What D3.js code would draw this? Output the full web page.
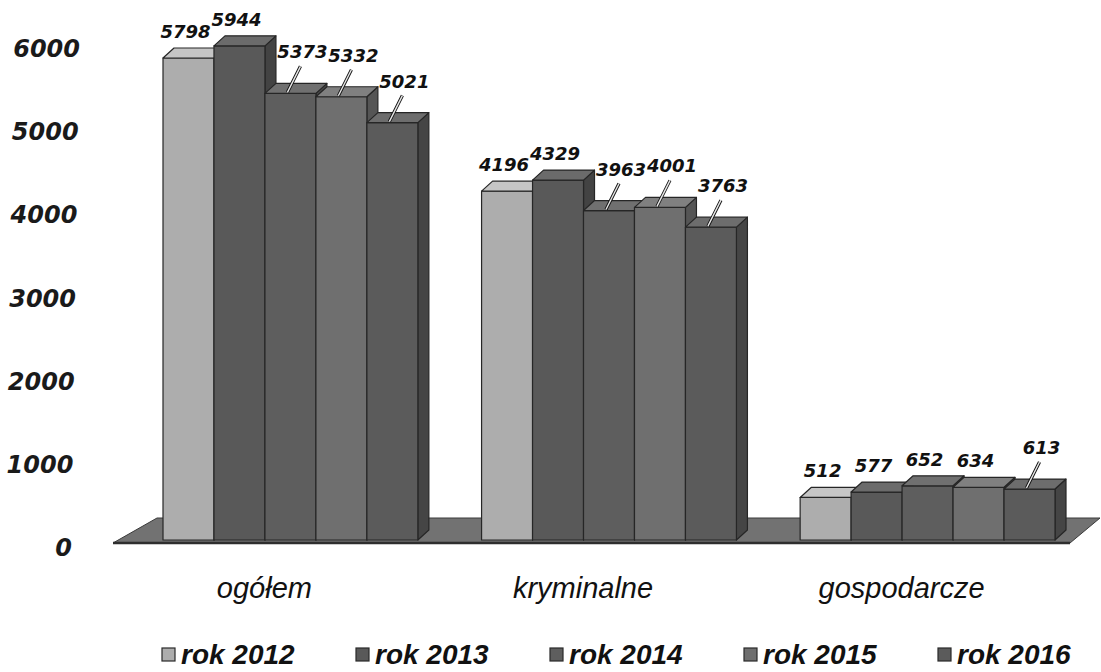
<!DOCTYPE html>
<html>
<head>
<meta charset="utf-8">
<script src="https://cdn.jsdelivr.net/npm/d3@7"></script>
<style>
    html, body { margin: 0; padding: 0; background: #fff; }
    svg { display: block; }
</style>
</head>
<body>
<div id="chart"></div>
<script>
(function () {
    // data
    var categories = ["ogółem", "kryminalne", "gospodarcze"];
    var years = ["rok 2012", "rok 2013", "rok 2014", "rok 2015", "rok 2016"];
    var rok2012 = [5798, 4196, 512];
    var rok2013 = [5944, 4329, 577];
    var rok2014 = [5373, 3963, 652];
    var rok2015 = [5332, 4001, 634];
    var rok2016 = [5021, 3763, 613];
    var yTicks = [0, 1000, 2000, 3000, 4000, 5000, 6000];

    var series = [rok2012, rok2013, rok2014, rok2015, rok2016];

    // grey shades of the scan: front / top / side
    var shades = [
        {front: "#adadad", top: "#c6c6c6", side: "#8c8c8c"},
        {front: "#595959", top: "#6b6b6b", side: "#434343"},
        {front: "#5e5e5e", top: "#707070", side: "#474747"},
        {front: "#6f6f6f", top: "#808080", side: "#555555"},
        {front: "#5b5b5b", top: "#6d6d6d", side: "#454545"}
    ];

    var W = 1101, H = 672;
    var DX = 11, DY = 10; //--3d depth offset
    var base = 540;

    var svg = d3.select("#chart").append("svg")
        .attr("width", W)
        .attr("height", H);

    svg.append("rect").attr("width", W).attr("height", H).attr("fill", "#fff");

    var x0 = d3.scaleBand().domain(categories).range([163, 1055]).paddingInner(0.2).paddingOuter(0);
    var x1 = d3.scaleBand().domain(years).range([0, x0.bandwidth()]).padding(0);
    var y = d3.scaleLinear().domain([0, 6000]).range([base, 41.2]);

    // floor
    svg.append("polygon")
        .attr("points", [[113, 543], [1070, 543], [1100, 518], [157, 518]].join(" "))
        .attr("fill", "#727272")
        .attr("stroke", "#3a3a3a")
        .attr("stroke-width", 1);
    svg.append("line")
        .attr("x1", 113).attr("y1", 543).attr("x2", 1070).attr("y2", 543)
        .attr("stroke", "#2e2e2e").attr("stroke-width", 2.5);

    // y axis labels
    svg.append("g").selectAll("text")
        .data(yTicks)
        .enter().append("text")
        .attr("x", function (d) { return 72 + d / 750; })
        .attr("y", function (d) { return y(d) + 16; })
        .attr("text-anchor", "end")
        .attr("font-family", "'DejaVu Sans', Verdana, sans-serif")
        .attr("font-weight", "bold")
        .attr("font-style", "italic")
        .attr("font-size", 24)
        .attr("fill", "#1a1a1a")
        .text(function (d) { return d; });

    var bars = svg.append("g");
    var labels = svg.append("g");

    categories.forEach(function (cat, ci) {
        var maxPrev = 0;
        years.forEach(function (yr, si) {
            var v = series[si][ci];
            var bx = x0(cat) + x1(yr);
            var bw = x1.bandwidth();
            var yt = y(v);
            var sh = shades[si];
            var g = bars.append("g")
                .attr("stroke", "#262626")
                .attr("stroke-width", 1.2)
                .attr("stroke-linejoin", "round");

            g.append("polygon")
                .attr("points", [[bx + bw, yt], [bx + bw + DX, yt - DY], [bx + bw + DX, base - DY], [bx + bw, base]].join(" "))
                .attr("fill", sh.side);
            g.append("rect")
                .attr("x", bx).attr("y", yt)
                .attr("width", bw).attr("height", base - yt)
                .attr("fill", sh.front);
            g.append("polygon")
                .attr("points", [[bx, yt], [bx + DX, yt - DY], [bx + bw + DX, yt - DY], [bx + bw, yt]].join(" "))
                .attr("fill", sh.top);

            var cx = bx + bw / 2;
            var backTop = yt - DY;
            var lx, ly;
            if (maxPrev - v > 30) {
                lx = cx + 12;
                ly = backTop - 25;
                var lineP = [[cx - 3, yt - 1], [lx - 2, ly + 8]];
                labels.append("line")
                    .attr("x1", lineP[0][0]).attr("y1", lineP[0][1])
                    .attr("x2", lineP[1][0]).attr("y2", lineP[1][1])
                    .attr("stroke", "#111").attr("stroke-width", 3.2);
                labels.append("line")
                    .attr("x1", lineP[0][0]).attr("y1", lineP[0][1])
                    .attr("x2", lineP[1][0]).attr("y2", lineP[1][1])
                    .attr("stroke", "#e8e8e8").attr("stroke-width", 1.4);
            } else {
                lx = cx - 3;
                ly = backTop - 10;
            }
            labels.append("text")
                .attr("x", lx)
                .attr("y", ly)
                .attr("text-anchor", "middle")
                .attr("font-family", "'DejaVu Sans', Verdana, sans-serif")
                .attr("font-weight", "bold")
                .attr("font-style", "italic")
                .attr("font-size", 18)
                .attr("fill", "#111")
                .text(v);
            maxPrev = Math.max(maxPrev, v);
        });
    });

    // category labels (shifted left for the perspective)
    svg.append("g").selectAll("text")
        .data(categories)
        .enter().append("text")
        .attr("x", function (d) { return x0(d) + x0.bandwidth() / 2 - 26; })
        .attr("y", 598)
        .attr("text-anchor", "middle")
        .attr("font-family", "'Liberation Sans Narrow', 'Liberation Sans', sans-serif")
        .attr("font-style", "italic")
        .attr("font-size", 29)
        .attr("fill", "#111")
        .text(function (d) { return d; });

    // legend
    var legend = svg.append("g");
    years.forEach(function (yr, i) {
        var lx = 162 + 194 * i;
        legend.append("rect")
            .attr("x", lx).attr("y", 648)
            .attr("width", 13).attr("height", 13)
            .attr("fill", shades[i].front)
            .attr("stroke", "#2a2a2a")
            .attr("stroke-width", 1.2);
        legend.append("text")
            .attr("x", lx + 19)
            .attr("y", 664)
            .attr("font-family", "'Liberation Sans Narrow', 'Liberation Sans', sans-serif")
            .attr("font-weight", "bold")
            .attr("font-style", "italic")
            .attr("font-size", 28)
            .attr("fill", "#111")
            .text(yr);
    });
})();
</script>
</body>
</html>
